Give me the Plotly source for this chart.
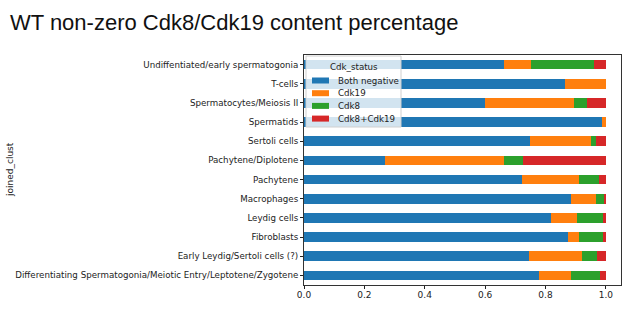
import plotly.graph_objects as go

categories = [
    "Differentiating Spermatogonia/Meiotic Entry/Leptotene/Zygotene",
    "Early Leydig/Sertoli cells (?)",
    "Fibroblasts",
    "Leydig cells",
    "Macrophages",
    "Pachytene",
    "Pachytene/Diplotene",
    "Sertoli cells",
    "Spermatids",
    "Spermatocytes/Meiosis II",
    "T-cells",
    "Undiffentiated/early spermatogonia",
]
both_negative = [0.778, 0.745, 0.873, 0.818, 0.886, 0.723, 0.267, 0.749, 0.988, 0.598, 0.866, 0.661]
cdk19 = [0.106, 0.175, 0.037, 0.086, 0.080, 0.188, 0.394, 0.203, 0.012, 0.296, 0.134, 0.090]
cdk8 = [0.095, 0.051, 0.082, 0.085, 0.027, 0.065, 0.064, 0.016, 0.000, 0.042, 0.000, 0.208]
cdk8_cdk19 = [0.021, 0.029, 0.008, 0.011, 0.007, 0.024, 0.275, 0.032, 0.000, 0.064, 0.000, 0.041]
series_names = ["Both negative", "Cdk19", "Cdk8", "Cdk8+Cdk19"]
series_colors = ["#1f77b4", "#ff7f0e", "#2ca02c", "#d62728"]
series_values = [both_negative, cdk19, cdk8, cdk8_cdk19]

W, H = 624, 312
L, R, T, B = 304, 3, 55, 27
PW, PH = W - L - R, H - T - B


def px(xp):
    return (xp - L) / PW


def py(yp):
    return (H - B - yp) / PH


fig = go.Figure()
for name, vals, color in zip(series_names, series_values, series_colors):
    fig.add_trace(go.Bar(
        y=categories, x=vals, name=name, orientation="h",
        marker=dict(color=color, line=dict(width=0)), width=0.5,
    ))

font = "DejaVu Sans"
fig.update_layout(
    barmode="stack",
    width=W, height=H,
    margin=dict(l=L, r=R, t=T, b=B),
    paper_bgcolor="white", plot_bgcolor="white",
    title=dict(text="WT non-zero Cdk8/Cdk19 content percentage",
               font=dict(family="Liberation Sans", size=22, color="#111111"),
               x=0.016, xref="container", xanchor="left",
               y=0.93, yref="container", yanchor="middle"),
    showlegend=False,
)
fig.update_xaxes(
    range=[0, 1.05], tickvals=[0, 0.2, 0.4, 0.6, 0.8, 1.0],
    ticktext=["0.0", "0.2", "0.4", "0.6", "0.8", "1.0"],
    ticks="outside", ticklen=3, tickcolor="#222222",
    showline=True, linecolor="#333333", linewidth=1, mirror=True,
    showgrid=False, zeroline=False, automargin=False,
    tickfont=dict(family=font, size=9, color="#222222"),
    ticklabelstandoff=-2,
)
fig.update_yaxes(
    range=[-0.5, 11.5],
    ticks="outside", ticklen=3, tickcolor="#222222",
    showline=True, linecolor="#333333", linewidth=1, mirror=True,
    showgrid=False, zeroline=False, automargin=False,
    tickfont=dict(family=font, size=8.7, color="#222222"),
)
fig.add_annotation(text="joined_clust", xref="paper", yref="paper",
                   x=px(10), y=0.5, xanchor="center", yanchor="middle",
                   textangle=-90, showarrow=False,
                   font=dict(family=font, size=9, color="#222222"))

# legend box (drawn manually to match the matplotlib-style legend)
fig.add_shape(type="rect", xref="paper", yref="paper",
              x0=px(306), x1=px(401), y0=py(127), y1=py(56),
              fillcolor="rgba(255,255,255,0.8)", line=dict(color="#d0d0d0", width=1),
              layer="above")
fig.add_annotation(text="Cdk_status", xref="paper", yref="paper",
                   x=px(354), y=py(67), xanchor="center", yanchor="middle",
                   showarrow=False,
                   font=dict(family=font, size=8.7, color="#222222"))
item_y = [80.5, 93.2, 105.9, 118.6]
for name, color, yy in zip(series_names, series_colors, item_y):
    fig.add_shape(type="rect", xref="paper", yref="paper",
                  x0=px(312), x1=px(329), y0=py(yy + 3), y1=py(yy - 3),
                  fillcolor=color, line=dict(width=0), layer="above")
    fig.add_annotation(text=name, xref="paper", yref="paper",
                       x=px(336), y=py(yy), xanchor="left", yanchor="middle",
                       showarrow=False,
                       font=dict(family=font, size=8.7, color="#222222"))

fig.write_html("out.html", config={"displayModeBar": False},
               post_script="document.body.style.margin='0';")
